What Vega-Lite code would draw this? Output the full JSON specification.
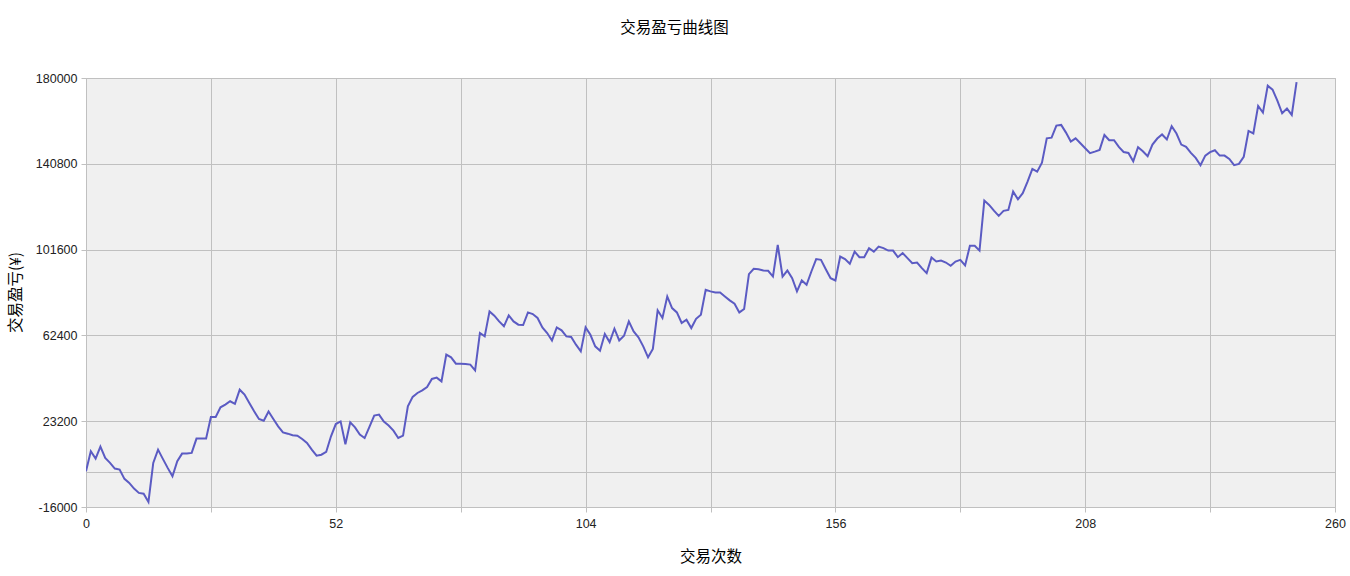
{
  "$schema": "https://vega.github.io/schema/vega-lite/v6.json",
  "width": 1249,
  "height": 429,
  "autosize": {"type": "none"},
  "padding": {"left": 86, "top": 78, "right": 15, "bottom": 69},
  "background": "white",
  "title": {
    "text": "交易盈亏曲线图",
    "font": "Noto Sans CJK SC",
    "fontSize": 15.5,
    "fontWeight": "normal",
    "color": "black",
    "anchor": "middle",
    "dx": -36,
    "offset": 36
  },
  "config": {
    "view": {"fill": "#F0F0F0", "stroke": "#C0C0C0"},
    "axis": {
      "labelFont": "Liberation Sans",
      "labelFontSize": 12.5,
      "labelColor": "#222222",
      "titleFont": "Noto Sans CJK SC",
      "titleFontSize": 15.5,
      "titleFontWeight": "normal",
      "titleColor": "black",
      "gridColor": "#C0C0C0",
      "gridOpacity": 1,
      "tickColor": "#C0C0C0",
      "tickSize": 5,
      "domain": false
    }
  },
  "data": {
    "values": [
      {"n":0,"v":300},{"n":1,"v":9450},{"n":2,"v":6100},{"n":3,"v":11600},{"n":4,"v":6400},{"n":5,"v":4150},{"n":6,"v":1550},{"n":7,"v":1100},{"n":8,"v":-3150},{"n":9,"v":-5000},
      {"n":10,"v":-7600},{"n":11,"v":-9550},{"n":12,"v":-9900},{"n":13,"v":-13700},{"n":14,"v":4150},{"n":15,"v":10200},{"n":16,"v":6000},{"n":17,"v":1870},{"n":18,"v":-1950},{"n":19,"v":4900},
      {"n":20,"v":8400},{"n":21,"v":8400},{"n":22,"v":8700},{"n":23,"v":15250},{"n":24,"v":15250},{"n":25,"v":15250},{"n":26,"v":25150},{"n":27,"v":25150},{"n":28,"v":29550},{"n":29,"v":30750},
      {"n":30,"v":32300},{"n":31,"v":31100},{"n":32,"v":37600},{"n":33,"v":35350},{"n":34,"v":31500},{"n":35,"v":27700},{"n":36,"v":24200},{"n":37,"v":23450},{"n":38,"v":27600},{"n":39,"v":24200},
      {"n":40,"v":20850},{"n":41,"v":18100},{"n":42,"v":17500},{"n":43,"v":16750},{"n":44,"v":16600},{"n":45,"v":15050},{"n":46,"v":13250},{"n":47,"v":10200},{"n":48,"v":7450},{"n":49,"v":7900},
      {"n":50,"v":9150},{"n":51,"v":16300},{"n":52,"v":21900},{"n":53,"v":23100},{"n":54,"v":12650},{"n":55,"v":22700},{"n":56,"v":20400},{"n":57,"v":17050},{"n":58,"v":15500},{"n":59,"v":20600},
      {"n":60,"v":25750},{"n":61,"v":26200},{"n":62,"v":23000},{"n":63,"v":21200},{"n":64,"v":18900},{"n":65,"v":15550},{"n":66,"v":16600},{"n":67,"v":30000},{"n":68,"v":34300},{"n":69,"v":36100},
      {"n":70,"v":37300},{"n":71,"v":38850},{"n":72,"v":42500},{"n":73,"v":43100},{"n":74,"v":41400},{"n":75,"v":53600},{"n":76,"v":52400},{"n":77,"v":49500},{"n":78,"v":49500},{"n":79,"v":49350},
      {"n":80,"v":49050},{"n":81,"v":46450},{"n":82,"v":63500},{"n":83,"v":61950},{"n":84,"v":73350},{"n":85,"v":71400},{"n":86,"v":68800},{"n":87,"v":66550},{"n":88,"v":71550},{"n":89,"v":68800},
      {"n":90,"v":67300},{"n":91,"v":67150},{"n":92,"v":72900},{"n":93,"v":72150},{"n":94,"v":70350},{"n":95,"v":66050},{"n":96,"v":63500},{"n":97,"v":60100},{"n":98,"v":66050},{"n":99,"v":64700},
      {"n":100,"v":61950},{"n":101,"v":61650},{"n":102,"v":58150},{"n":103,"v":55100},{"n":104,"v":66050},{"n":105,"v":62700},{"n":106,"v":57400},{"n":107,"v":55400},{"n":108,"v":63050},{"n":109,"v":59350},
      {"n":110,"v":65450},{"n":111,"v":60100},{"n":112,"v":62250},{"n":113,"v":68800},{"n":114,"v":64200},{"n":115,"v":61500},{"n":116,"v":57400},{"n":117,"v":52400},{"n":118,"v":56200},{"n":119,"v":73850},
      {"n":120,"v":70350},{"n":121,"v":80200},{"n":122,"v":74900},{"n":123,"v":72900},{"n":124,"v":68050},{"n":125,"v":69550},{"n":126,"v":65750},{"n":127,"v":70000},{"n":128,"v":71850},{"n":129,"v":83250},
      {"n":130,"v":82500},{"n":131,"v":82000},{"n":132,"v":82000},{"n":133,"v":80200},{"n":134,"v":78400},{"n":135,"v":76850},{"n":136,"v":72900},{"n":137,"v":74450},{"n":138,"v":90400},{"n":139,"v":92800},
      {"n":140,"v":92650},{"n":141,"v":92050},{"n":142,"v":91900},{"n":143,"v":89300},{"n":144,"v":103750},{"n":145,"v":89300},{"n":146,"v":92050},{"n":147,"v":88550},{"n":148,"v":82500},{"n":149,"v":87500},
      {"n":150,"v":85500},{"n":151,"v":91600},{"n":152,"v":97250},{"n":153,"v":96900},{"n":154,"v":92650},{"n":155,"v":88550},{"n":156,"v":87500},{"n":157,"v":98400},{"n":158,"v":97250},{"n":159,"v":95100},
      {"n":160,"v":100700},{"n":161,"v":98150},{"n":162,"v":98150},{"n":163,"v":102250},{"n":164,"v":100700},{"n":165,"v":103000},{"n":166,"v":102250},{"n":167,"v":101150},{"n":168,"v":101150},{"n":169,"v":98150},
      {"n":170,"v":100000},{"n":171,"v":97700},{"n":172,"v":95400},{"n":173,"v":95700},{"n":174,"v":93150},{"n":175,"v":90850},{"n":176,"v":97950},{"n":177,"v":96150},{"n":178,"v":96600},{"n":179,"v":95700},
      {"n":180,"v":94200},{"n":181,"v":96150},{"n":182,"v":96900},{"n":183,"v":94350},{"n":184,"v":103350},{"n":185,"v":103350},{"n":186,"v":101150},{"n":187,"v":124000},{"n":188,"v":122000},{"n":189,"v":119400},
      {"n":190,"v":117000},{"n":191,"v":119300},{"n":192,"v":119700},{"n":193,"v":128100},{"n":194,"v":124600},{"n":195,"v":127350},{"n":196,"v":132650},{"n":197,"v":138450},{"n":198,"v":137200},{"n":199,"v":141350},
      {"n":200,"v":152450},{"n":201,"v":152750},{"n":202,"v":158250},{"n":203,"v":158550},{"n":204,"v":155050},{"n":205,"v":150950},{"n":206,"v":152450},{"n":207,"v":150200},{"n":208,"v":147900},{"n":209,"v":145650},
      {"n":210,"v":146350},{"n":211,"v":147150},{"n":212,"v":153950},{"n":213,"v":151600},{"n":214,"v":151550},{"n":215,"v":148500},{"n":216,"v":146200},{"n":217,"v":145750},{"n":218,"v":141950},{"n":219,"v":148350},
      {"n":220,"v":146550},{"n":221,"v":144250},{"n":222,"v":149600},{"n":223,"v":152350},{"n":224,"v":154200},{"n":225,"v":151900},{"n":226,"v":157950},{"n":227,"v":154650},{"n":228,"v":149600},{"n":229,"v":148550},
      {"n":230,"v":145800},{"n":231,"v":143500},{"n":232,"v":140150},{"n":233,"v":144550},{"n":234,"v":146100},{"n":235,"v":147000},{"n":236,"v":144550},{"n":237,"v":144550},{"n":238,"v":143000},{"n":239,"v":140150},
      {"n":240,"v":140750},{"n":241,"v":143950},{"n":242,"v":155800},{"n":243,"v":154650},{"n":244,"v":167250},{"n":245,"v":164200},{"n":246,"v":176500},{"n":247,"v":174650},{"n":248,"v":169650},{"n":249,"v":163900},
      {"n":250,"v":166050},{"n":251,"v":163150},{"n":252,"v":178100}
    ]
  },
  "mark": {"type": "line", "color": "#5B5BC3", "strokeWidth": 2, "clip": true},
  "encoding": {
    "x": {
      "field": "n",
      "type": "quantitative",
      "title": "交易次数",
      "scale": {"domain": [0, 260], "nice": false, "zero": false},
      "axis": {
        "values": [0, 26, 52, 78, 104, 130, 156, 182, 208, 234, 260],
        "labelExpr": "datum.value % 52 == 0 ? datum.value : ''",
        "labelPadding": 5,
        "labelFlush": false,
        "titleY": 49,
        "titleBaseline": "middle"
      }
    },
    "y": {
      "field": "v",
      "type": "quantitative",
      "title": "交易盈亏(¥)",
      "scale": {"domain": [-16000, 180000], "nice": false, "zero": false},
      "axis": {
        "values": [-16000, 0, 23200, 62400, 101600, 140800, 180000],
        "labelExpr": "datum.value == 0 ? '' : datum.value",
        "tickOpacity": {"condition": {"test": "datum.value == 0", "value": 0}, "value": 1},
        "labelPadding": 4,
        "labelFlush": false,
        "titleX": -71,
        "titleY": 214,
        "titleAngle": -90,
        "titleBaseline": "middle",
        "titleAlign": "center"
      }
    }
  }
}
